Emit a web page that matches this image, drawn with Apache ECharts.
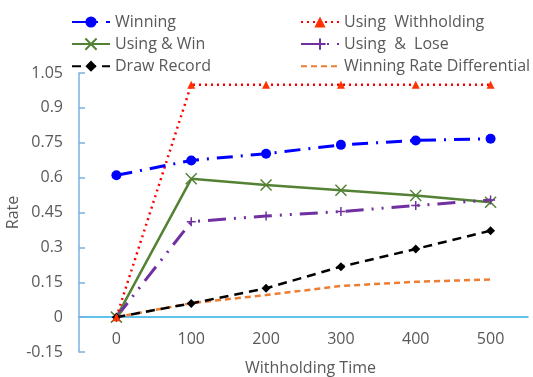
<!DOCTYPE html>
<html><head><meta charset="utf-8">
<script src="https://cdn.jsdelivr.net/npm/echarts@6/dist/echarts.min.js"></script>
<style>html,body{margin:0;padding:0;background:#fff}#c{width:533px;height:377px}</style>
</head><body><div id="c"></div>
<script>
const categories = ['0','100','200','300','400','500'];
const winning = [0.61, 0.674, 0.703, 0.741, 0.76, 0.767];
const usingWithholding = [0, 1.0, 1.0, 1.0, 1.0, 1.0];
const usingWin = [0, 0.595, 0.568, 0.546, 0.523, 0.494];
const usingLose = [0, 0.41, 0.435, 0.454, 0.48, 0.504];
const drawRecord = [0, 0.059, 0.124, 0.217, 0.293, 0.372];
const winRateDiff = [0, 0.06, 0.095, 0.134, 0.152, 0.162];
const yMin = -0.15, yMax = 1.05, yStep = 0.15;

const FONT = '"Open Sans", "Liberation Sans", sans-serif';
const TXT = '#595959';
const X_PATH = 'path://M0,0L10,10M10,0L0,10';
const PLUS_PATH = 'path://M5,0L5,10M0,5L10,5';

const GRID_TOP = 73, GRID_BOTTOM = 25, H = 377;
const plotH = H - GRID_TOP - GRID_BOTTOM;
// offset (px) that lifts the x axis from the grid bottom to the value 0
const zeroOffset = -(0 - yMin) / (yMax - yMin) * plotH;

const chart = echarts.init(document.getElementById('c'));
const legendText = {color: TXT, fontSize: 16, fontFamily: FONT};
chart.setOption({
  animation: false,
  backgroundColor: '#fff',
  grid: {left: 79, right: 5, top: GRID_TOP, bottom: GRID_BOTTOM, containLabel: false, outerBoundsMode: 'none'},
  legend: [
    {orient: 'vertical', left: 66, top: 9, itemWidth: 38, itemHeight: 14, itemGap: 6,
     textStyle: legendText, data: ['Winning', 'Using & Win', 'Draw Record']},
    {orient: 'vertical', left: 295, top: 9, itemWidth: 38, itemHeight: 14, itemGap: 6,
     textStyle: legendText, data: ['Using  Withholding', 'Using  &  Lose', 'Winning Rate Differential']}
  ],
  xAxis: {
    type: 'category', data: categories, position: 'bottom', offset: zeroOffset,
    name: 'Withholding Time', nameLocation: 'middle', nameGap: 43,
    nameTextStyle: {color: TXT, fontSize: 16, fontFamily: FONT, padding: [0, 0, 0, 14]},
    axisLine: {onZero: false, lineStyle: {color: '#2EAEE6', width: 1.5}},
    axisTick: {inside: true, length: 6, lineStyle: {color: '#2EAEE6', width: 1.5}},
    axisLabel: {color: TXT, fontSize: 16, fontFamily: FONT, margin: 14},
    splitLine: {show: false}
  },
  yAxis: {
    type: 'value', min: yMin, max: yMax, interval: yStep,
    name: 'Rate', nameLocation: 'middle', nameGap: 58, nameMoveOverlap: false,
    nameTextStyle: {color: TXT, fontSize: 16, fontFamily: FONT},
    axisLine: {show: true, lineStyle: {color: '#7AB0DE', width: 1.5}},
    axisTick: {show: true, inside: true, length: 6, lineStyle: {color: '#7AB0DE', width: 1.5}},
    axisLabel: {color: TXT, fontSize: 16, fontFamily: FONT, margin: 16,
      formatter: v => { const r = Math.round(v * 100) / 100; return String(r); }},
    splitLine: {show: false}
  },
  series: [
    {name: 'Winning', type: 'line', data: winning, symbol: 'circle', symbolSize: 10,
     itemStyle: {color: '#0000FF'}, lineStyle: {color: '#0000FF', width: 3, type: [16, 8, 2, 8]}, z: 5},
    {name: 'Using  Withholding', type: 'line', data: usingWithholding, symbol: 'triangle', symbolSize: 8,
     itemStyle: {color: '#FF3300'}, lineStyle: {color: '#FF0000', width: 2.5, type: [2, 4]}, z: 4},
    {name: 'Using & Win', type: 'line', data: usingWin, symbol: X_PATH, symbolSize: 11,
     itemStyle: {color: 'none', borderColor: '#548235', borderWidth: 1.5},
     lineStyle: {color: '#548235', width: 2.5, type: 'solid'}, z: 3},
    {name: 'Using  &  Lose', type: 'line', data: usingLose, symbol: PLUS_PATH, symbolSize: 9,
     itemStyle: {color: 'none', borderColor: '#7030A0', borderWidth: 1.5},
     lineStyle: {color: '#7030A0', width: 3, type: [18, 8, 2, 8, 2, 8]}, z: 3},
    {name: 'Draw Record', type: 'line', data: drawRecord, symbol: 'diamond', symbolSize: 9,
     itemStyle: {color: '#000000'}, lineStyle: {color: '#000000', width: 2.5, type: [9, 6]}, z: 3},
    {name: 'Winning Rate Differential', type: 'line', data: winRateDiff, symbol: 'none',
     itemStyle: {color: 'rgba(0,0,0,0)'}, lineStyle: {color: '#ED7D31', width: 2.5, type: [6, 4]}, z: 2}
  ]
});
</script></body></html>
